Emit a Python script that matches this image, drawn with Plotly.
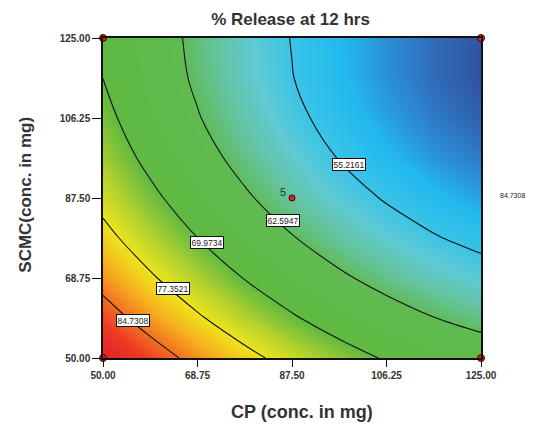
import plotly.graph_objects as go

# Factor levels (mg)
cp_levels = [50.0, 59.375, 68.75, 78.125, 87.5, 96.875, 106.25, 115.625, 125.0]
scmc_levels = [50.0, 59.375, 68.75, 78.125, 87.5, 96.875, 106.25, 115.625, 125.0]

# % Release at 12 hrs, rows = SCMC level, columns = CP level
release = [
    [92.40, 87.46, 82.97, 78.92, 75.33, 72.19, 69.50, 67.25, 65.46],
    [87.26, 82.40, 77.99, 74.03, 70.52, 67.46, 64.85, 62.69, 60.98],
    [82.78, 78.00, 73.67, 69.79, 66.37, 63.39, 60.86, 58.78, 57.16],
    [78.94, 74.24, 70.00, 66.20, 62.86, 59.96, 57.52, 55.52, 53.98],
    [75.75, 71.14, 66.98, 63.26, 60.00, 57.19, 54.83, 52.91, 51.45],
    [73.21, 68.68, 64.60, 60.97, 57.79, 55.06, 52.78, 50.95, 49.57],
    [71.33, 66.88, 62.88, 59.33, 56.24, 53.59, 51.39, 49.64, 48.35],
    [69.95, 65.72, 61.81, 58.34, 55.33, 52.76, 50.65, 48.98, 47.77],
    [69.50, 65.22, 61.39, 58.00, 55.07, 52.59, 50.56, 48.97, 47.84],
]

contour_levels = [55.2161, 62.5947, 69.9734, 77.3521, 84.7308]
label_cp = [98.8, 85.65, 70.6, 63.95, 56.0]
label_scmc = [95.3, 82.2, 77.0, 66.3, 58.7]

tick_vals = [50.0, 68.75, 87.5, 106.25, 125.0]
tick_text = ["50.00", "68.75", "87.50", "106.25", "125.00"]

design_cp = [87.5]
design_scmc = [87.5]
design_label = ["5"]
corner_cp = [50.0, 50.0, 125.0, 125.0]
corner_scmc = [50.0, 125.0, 50.0, 125.0]

zmin, zmax = 47.77, 92.40
def nz(v):
    return (v - zmin) / (zmax - zmin)

colorscale = [
    [0.0, "rgb(48,82,162)"],
    [nz(50.0), "rgb(45,130,205)"],
    [nz(52.5), "rgb(35,185,238)"],
    [nz(55.0), "rgb(55,195,232)"],
    [nz(57.5), "rgb(95,202,212)"],
    [nz(60.0), "rgb(100,196,160)"],
    [nz(63.0), "rgb(95,186,80)"],
    [nz(70.0), "rgb(95,185,65)"],
    [nz(74.0), "rgb(180,210,45)"],
    [nz(77.5), "rgb(238,228,28)"],
    [nz(81.0), "rgb(245,178,30)"],
    [nz(84.7), "rgb(242,112,33)"],
    [nz(88.0), "rgb(236,58,36)"],
    [1.0, "rgb(228,30,40)"],
]

FONT = "Arial, Liberation Sans, sans-serif"

fig = go.Figure()
fig.add_trace(go.Contour(
    x=cp_levels, y=scmc_levels, z=release,
    zmin=zmin, zmax=zmax, colorscale=colorscale, showscale=False,
    contours=dict(start=contour_levels[0], end=contour_levels[-1],
                  size=contour_levels[1] - contour_levels[0], coloring="heatmap",
                  showlines=True),
    line=dict(color="#111", width=1.1, smoothing=1.0),
    hoverinfo="skip",
))

fig.add_trace(go.Scatter(
    x=corner_cp, y=corner_scmc, mode="markers", cliponaxis=False,
    marker=dict(color="#e02020", size=7, line=dict(color="#400", width=1)),
    hoverinfo="skip",
))
fig.add_trace(go.Scatter(
    x=design_cp, y=design_scmc, mode="markers", cliponaxis=False,
    marker=dict(color="#e02020", size=6, line=dict(color="#400", width=1)),
    hoverinfo="skip",
))

annotations = []
for lv, lx, ly in zip(contour_levels, label_cp, label_scmc):
    annotations.append(dict(
        x=lx, y=ly, xref="x", yref="y", text=f"{lv:.4f}", showarrow=False,
        font=dict(family=FONT, size=8.5, color="#222"),
        bgcolor="white", bordercolor="#111", borderwidth=1, borderpad=0.5,
    ))
annotations.append(dict(
    x=85.7, y=88.9, xref="x", yref="y", text=design_label[0], showarrow=False,
    font=dict(family=FONT, size=11, color="#333"),
))
annotations.append(dict(
    x=1.122, y=0.509, xref="paper", yref="paper", text=f"{contour_levels[-1]:.4f}",
    showarrow=False, font=dict(family=FONT, size=7, color="#222"),
))
annotations.append(dict(
    x=0.526, y=-0.17, xref="paper", yref="paper", text="<b>CP (conc. in mg)</b>",
    showarrow=False, font=dict(family=FONT, size=18, color="#333"), yanchor="middle",
))
annotations.append(dict(
    x=-0.204, y=0.51, xref="paper", yref="paper", text="<b>SCMC(conc. in mg)</b>",
    showarrow=False, textangle=-90, font=dict(family=FONT, size=17, color="#333"),
    xanchor="center", yanchor="middle",
))

axis_common = dict(
    tickvals=tick_vals, ticktext=tick_text, ticks="outside",
    tickcolor="#111", tickwidth=1.3, showline=True, linecolor="#111",
    linewidth=1.5, mirror=True, showgrid=False, zeroline=False,
    tickfont=dict(family=FONT, size=10, color="#333", weight="bold"),
)

fig.update_layout(
    width=541, height=431,
    margin=dict(l=103, r=60, t=38, b=73),
    paper_bgcolor="white", plot_bgcolor="white",
    showlegend=False,
    title=dict(text="<b>% Release at 12 hrs</b>", x=0.537, xanchor="center",
               y=0.955, yanchor="middle",
               font=dict(family=FONT, size=17, color="#333")),
    xaxis=dict(range=[50, 125], ticklen=7, **axis_common),
    yaxis=dict(range=[50, 125], ticklen=9, **axis_common),
    annotations=annotations,
)

fig.write_html("out.html")
